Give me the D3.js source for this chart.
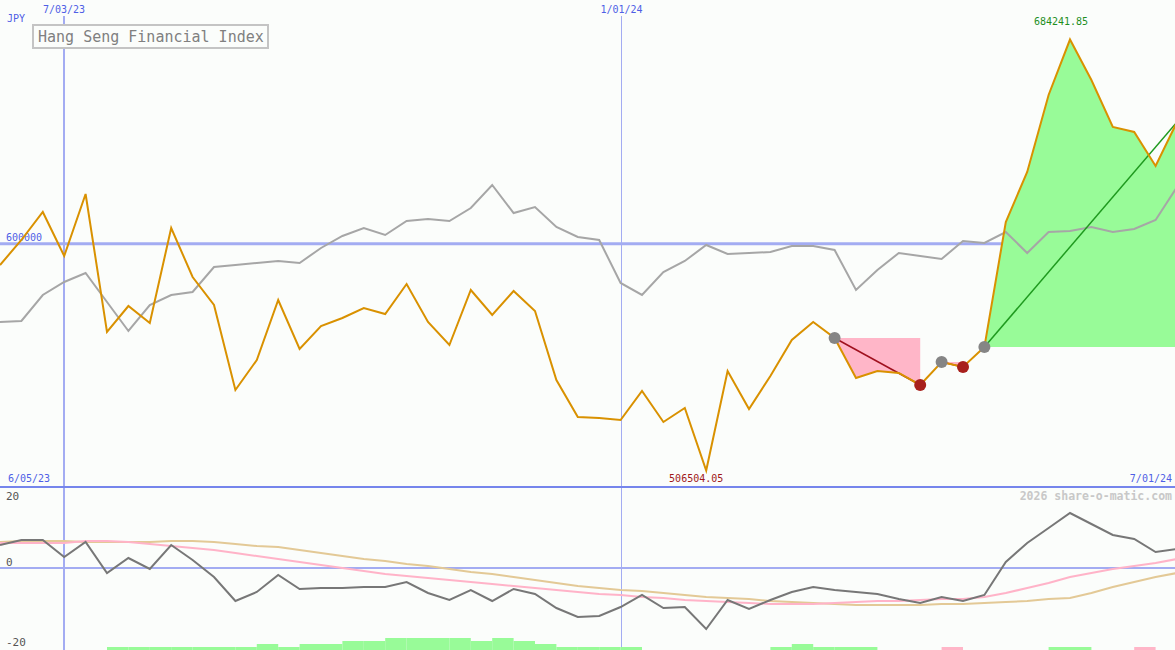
<!DOCTYPE html>
<html><head><meta charset="utf-8">
<script src="https://cdn.jsdelivr.net/npm/d3@7"></script>
<style>html,body{margin:0;padding:0;background:#fbfdfb;}svg{display:block;}</style>
</head><body><svg id="c" width="1175" height="650"></svg>
<script>
const startDate = "2023-06-12";
const endDate = "2024-07-01";
const priceValues = [591257,601567,613114,594969,620538,563626,574349,567338,606516,586308,
574761,539707,552079,576823,556616,566101,569400,573524,571050,583422,
567750,558265,580947,570637,580535,572287,543831,528572,528200,527335,
539295,526510,532284,506504.05,547543,531872,545481,560327,567750,561152,
544656,547543,546718,541769,551254,549192,557441,608990,629610,661365,
684241.85,667551,648168,646106,632085,650230];
const compareValues = [567750,568163,578885,584246,587958,575998,564039,574761,578885,580122,
590432,591257,592082,592907,592082,598268,603217,606516,603629,609403,
610228,609403,614764,624249,612702,615176,606928,602804,601567,583834,
578885,588370,592907,599505,595794,596206,596618,599093,599093,597443,
580947,589195,596206,594969,593732,601155,600330,604866,596206,604866,
605279,606928,604866,606104,609815,623424];
const momentum = [5.75,7,7,2.75,6.5,-1.25,2.5,-0.25,5.75,2,
-2.25,-8.25,-6,-1.75,-5.25,-5,-5,-4.75,-4.75,-3.5,
-6.25,-8,-5.5,-8.25,-5.25,-6.5,-10,-12.25,-12,-9.75,
-6.75,-10,-9.75,-15.25,-8,-10.25,-8,-6,-4.75,-5.5,
-6,-6.5,-7.75,-8.75,-7.25,-8.25,-6.75,1.5,6.25,10,
13.75,11,8.25,7.25,4,4.75];
const shortAvg = [6.25,6.25,6.25,6.25,6.75,6.75,6.5,6,5.5,5,
4.5,3.75,3,2.25,1.5,0.75,0,-0.75,-1.5,-2,
-2.5,-3,-3.5,-4,-4.5,-5,-5.5,-6,-6.5,-6.75,
-7.25,-7.5,-8,-8.25,-8.5,-8.75,-9,-9,-9,-8.75,
-8.5,-8.25,-8.25,-8,-7.75,-7.75,-7.25,-6.25,-5,-3.75,
-2.25,-1.25,-0.25,0.5,1.25,2.25];
const longAvg = [6.5,6.75,6.75,6.75,6.5,6.5,6.5,6.5,6.75,6.75,
6.5,6,5.5,5.25,4.5,3.75,3,2.25,1.75,1,
0.5,-0.25,-1,-1.5,-2.25,-3,-3.75,-4.5,-5,-5.5,
-5.75,-6.25,-6.75,-7.25,-7.5,-7.75,-8.25,-8.5,-8.75,-9,
-9.25,-9.25,-9.25,-9.25,-9,-9,-8.75,-8.5,-8.25,-7.75,
-7.5,-6.25,-4.75,-3.5,-2.25,-1.25];
const signalBars = [0,0,0,0,0,1,1,1,1,1,
1,1,2,1,2,2,3,3,4,4,
4,4,3,4,3,2,1,1,1,1,
0,0,0,0,0,0,1,2,1,1,
1,0,0,0,-1,0,0,0,0,1,
1,0,0,-1,0,0];
const tradeEntry = [39,44,46];
const tradeExit = [43,45,55];
const tradeOpen = [false,false,true];
const gridDates = ["2023-07-03","2024-01-01"];
const gridDateLabels = ["7/03/23","1/01/24"];
const priceGrid = [600000];
const priceGridLabels = ["600000"];
const oscTicks = [20,0,-20];
const oscTickLabels = ["20","0","-20"];
const titleText = "Hang Seng Financial Index";
const currencyText = "JPY";
const maxLabel = "684241.85";
const minLabel = "506504.05";
const startLabel = "6/05/23";
const endLabel = "7/01/24";
const creditText = "2026 share-o-matic.com";

const W = 1175, H = 650, mainBottom = 487;
const parse = d3.timeParse("%Y-%m-%d");
const dates = d3.timeMonday.range(parse(startDate), d3.timeDay.offset(parse(endDate), 1));
const svg = d3.select("#c");
const font = "'DejaVu Sans Mono', monospace";

const x = d3.scaleTime().domain([parse(startDate), parse(endDate)]).range([0, 1177]);
const y = d3.scaleLinear().domain([499700, 700540]).range([mainBottom, 0]);
const yo = d3.scaleLinear().domain([-20, 20]).range([648, 488]);

svg.append("rect").attr("width", W).attr("height", H).attr("fill", "#fbfdfb");

// grid
gridDates.forEach((d, i) => {
  const gx = Math.round(x(parse(d))) + (i === 0 ? 0 : 0.5);
  svg.append("line").attr("x1", gx).attr("x2", gx).attr("y1", 16).attr("y2", H)
    .attr("stroke", "#a3acf2").attr("stroke-width", i === 0 ? 2 : 1);
  svg.append("text").attr("x", gx).attr("y", 13).attr("text-anchor", "middle")
    .attr("font-family", font).attr("font-size", 10).attr("fill", "#4f5fe6").text(gridDateLabels[i]);
});
priceGrid.forEach((v, i) => {
  svg.append("line").attr("x1", 0).attr("x2", W).attr("y1", y(v)).attr("y2", y(v))
    .attr("stroke", "#a3acf2").attr("stroke-width", 3);
  svg.append("text").attr("x", 6).attr("y", y(v) - 3).attr("font-family", font).attr("font-size", 10)
    .attr("fill", "#4f5fe6").text(priceGridLabels[i]);
});
svg.append("line").attr("x1", 0).attr("x2", W).attr("y1", yo(0)).attr("y2", yo(0))
  .attr("stroke", "#a3acf2").attr("stroke-width", 2);
svg.append("line").attr("x1", 0).attr("x2", W).attr("y1", mainBottom).attr("y2", mainBottom)
  .attr("stroke", "#7585ec").attr("stroke-width", 2);

// trade fills
const pts = priceValues.map((v, i) => ({d: dates[i], v, i}));
tradeEntry.forEach((s, k) => {
  const e = tradeExit[k];
  const base = priceValues[s];
  const seg = pts.slice(s, e + 1);
  const gain = priceValues[e] >= base;
  const area = d3.area().x(p => x(p.d)).y0(y(base)).y1(p => y(p.v));
  const extended = tradeOpen[k] ? seg.concat([{d: x.invert(W), v: priceValues[e]}]) : seg;
  svg.append("path").datum(extended).attr("d", area).attr("fill", gain ? "#98fb98" : "#ffb6c8");
});

// comparison line
const line = d3.line().x(p => x(p.d)).y(p => y(p.v));
svg.append("path").datum(compareValues.map((v, i) => ({d: dates[i], v})))
  .attr("d", line).attr("fill", "none").attr("stroke", "#a6a6a6").attr("stroke-width", 2);

// trade lines
tradeEntry.forEach((s, k) => {
  const e = tradeExit[k];
  const gain = priceValues[e] >= priceValues[s];
  svg.append("line").attr("x1", x(dates[s])).attr("y1", y(priceValues[s]))
    .attr("x2", x(dates[e])).attr("y2", y(priceValues[e]))
    .attr("stroke", gain ? "#1f9a1f" : "#a0101e").attr("stroke-width", 1.5);
});

// price line
svg.append("path").datum(pts).attr("d", line).attr("fill", "none")
  .attr("stroke", "#d99100").attr("stroke-width", 2).attr("stroke-linejoin", "miter");

// markers
tradeEntry.forEach((s, k) => {
  svg.append("circle").attr("cx", x(dates[s])).attr("cy", y(priceValues[s])).attr("r", 6)
    .attr("fill", "#858585");
  if (!tradeOpen[k]) {
    const e = tradeExit[k];
    svg.append("circle").attr("cx", x(dates[e])).attr("cy", y(priceValues[e])).attr("r", 6)
      .attr("fill", "#a8201c");
  }
});

// max/min labels
const maxI = d3.maxIndex(priceValues), minI = d3.minIndex(priceValues);
svg.append("text").attr("x", x(dates[maxI]) - 9).attr("y", 25).attr("text-anchor", "middle")
  .attr("font-family", font).attr("font-size", 10).attr("fill", "#1f8f1f").text(maxLabel);
svg.append("text").attr("x", x(dates[minI]) - 10).attr("y", 482).attr("text-anchor", "middle")
  .attr("font-family", font).attr("font-size", 10).attr("fill", "#a01818").text(minLabel);

// corner labels
svg.append("text").attr("x", 7).attr("y", 22).attr("font-family", font).attr("font-size", 10)
  .attr("fill", "#4f5fe6").text(currencyText);
svg.append("text").attr("x", 8).attr("y", 482).attr("font-family", font).attr("font-size", 10)
  .attr("fill", "#4f5fe6").text(startLabel);
svg.append("text").attr("x", 1172).attr("y", 482).attr("text-anchor", "end").attr("font-family", font)
  .attr("font-size", 10).attr("fill", "#4f5fe6").text(endLabel);

// title box
svg.append("rect").attr("x", 33).attr("y", 25).attr("width", 235).attr("height", 23)
  .attr("fill", "#fbfdfb").attr("stroke", "#c4c4c4").attr("stroke-width", 2);
svg.append("text").attr("x", 38).attr("y", 42).attr("font-family", font).attr("font-size", 15)
  .attr("fill", "#808080").text(titleText);

// credit
svg.append("text").attr("x", 1172).attr("y", 500).attr("text-anchor", "end").attr("font-family", font)
  .attr("font-size", 11.5).attr("font-weight", "bold").attr("fill", "#c8c8c8").text(creditText);

// oscillator ticks
oscTicks.forEach((t, i) => {
  const ty = t === 20 ? yo(t) + 12 : yo(t) - 2;
  svg.append("text").attr("x", 6).attr("y", ty).attr("font-family", font).attr("font-size", 11)
    .attr("fill", "#555").text(oscTickLabels[i]);
});

// signal bars
const barH = 3;
signalBars.forEach((v, i) => {
  if (v === 0 || i + 1 >= dates.length) return;
  const x0 = x(dates[i]), x1 = x(dates[i + 1]);
  const h = Math.abs(v) * barH;
  svg.append("rect").attr("x", x0).attr("y", H - h).attr("width", x1 - x0).attr("height", h)
    .attr("fill", v > 0 ? "#98fb98" : "#ffb6c8");
});

// oscillator lines
const oline = d3.line().x((v, i) => x(dates[i])).y(v => yo(v));
svg.append("path").datum(longAvg).attr("d", oline).attr("fill", "none").attr("stroke", "#e3c996").attr("stroke-width", 2);
svg.append("path").datum(shortAvg).attr("d", oline).attr("fill", "none").attr("stroke", "#ffb3c8").attr("stroke-width", 2);
svg.append("path").datum(momentum).attr("d", oline).attr("fill", "none").attr("stroke", "#777").attr("stroke-width", 2);
</script></body></html>
